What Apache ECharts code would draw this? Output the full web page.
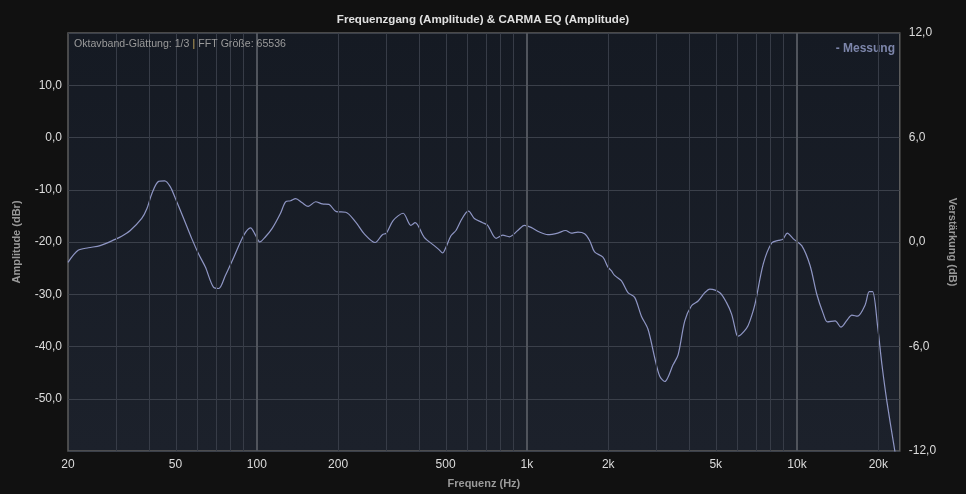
<!DOCTYPE html>
<html>
<head>
<meta charset="utf-8">
<title>Frequenzgang</title>
<script src="https://cdn.jsdelivr.net/npm/echarts@6/dist/echarts.min.js"></script>
<style>
  html, body { margin: 0; padding: 0; background: #111111; }
  #chart { width: 966px; height: 494px; }
</style>
</head>
<body>
<div id="chart"></div>
<script>
// Messkurve (Frequenz in Hz, Pegel in dBr)
const freqHz = [
  20, 21.8, 23.8, 26.3, 29.9, 31.6, 34.0, 37.5, 39.2, 40.9, 43.3, 45.6, 47.8, 49.9,
  53.6, 57.5, 60.9, 64.5, 69.2, 72.3, 76.5, 82.2, 89.5, 94.8, 98.9, 102.6, 107.7,
  114.0, 122.4, 127.8, 133.4, 139.2, 147.3, 155.0, 165.1, 174.7, 185.0, 197.0,
  213.4, 232.4, 249.5, 274.1, 291.7, 301.8, 319.6, 348.1, 371.8, 385.7, 416.7,
  453.8, 473.5, 487.1, 501.5, 523.3, 546.1, 570.0, 594.9, 608.1, 638.5, 685.5,
  715.4, 768.7, 813.3, 861.2, 924.6, 978.8, 1036, 1113, 1195, 1301, 1390, 1459,
  1544, 1635, 1706, 1780, 1911, 1995, 2053, 2112, 2236, 2366, 2505, 2653, 2807,
  2973, 3103, 3238, 3475, 3628, 3841, 4067, 4303, 4556, 4755, 5180, 5483, 5724,
  5974, 6056, 6507, 6693, 6986, 7499, 8055, 8522, 8850, 9204, 9690, 10409, 11174,
  11833, 12521, 12955, 13836, 14530, 15291, 15959, 16741, 17880, 18504, 19030,
  19861, 20621, 21521, 23100
];
const ampDb = [
  -23.9, -21.6, -21.1, -20.7, -19.5, -18.9, -17.8, -15.5, -13.6, -10.7, -8.4, -8.3, -9.4, -11.6,
  -15.5, -19.4, -22.3, -24.8, -28.7, -28.9, -26.4, -22.9, -18.7, -17.3, -18.7, -20.0, -19.0,
  -17.4, -14.5, -12.3, -12.1, -11.7, -12.5, -13.2, -12.3, -12.7, -12.8, -14.2,
  -14.3, -16.2, -18.4, -20.1, -18.6, -18.3, -15.9, -14.5, -16.8, -16.3, -19.1,
  -20.7, -21.5, -22.1, -21.0, -18.8, -17.8, -15.9, -14.4, -14.1, -15.5, -16.3,
  -16.8, -19.3, -18.7, -19.0, -17.8, -16.8, -17.2, -18.1, -18.6, -18.3, -17.8, -18.3,
  -18.1, -18.4, -19.7, -21.9, -22.9, -24.8, -25.5, -26.4, -27.4, -29.7, -30.6, -34.2, -36.7,
  -42.2, -45.7, -46.7, -43.5, -41.6, -35.1, -32.2, -31.3, -29.7, -29.0, -29.7, -31.6, -33.8,
  -37.7, -38.0, -36.5, -35.1, -31.9, -24.2, -20.2, -19.7, -19.5, -18.3, -19.4, -20.7, -24.5,
  -30.0, -33.8, -35.3, -35.1, -36.3, -35.0, -34.0, -34.2, -32.0, -29.5, -29.5,
  -36.0, -43.5, -50.6, -60.5
];

// Achsenbeschriftung
const xTickHz = [20, 50, 100, 200, 500, 1000, 2000, 5000, 10000, 20000];
const xTickText = ['20', '50', '100', '200', '500', '1k', '2k', '5k', '10k', '20k'];
const gridMinorHz = [30, 40, 50, 60, 70, 80, 90, 200, 300, 400, 500, 600, 700, 800, 900,
  2000, 3000, 4000, 5000, 6000, 7000, 8000, 9000, 20000];
const gridMajorHz = [100, 1000, 10000];

const xMin = Math.log10(20);
const xMax = Math.log10(24000);

const fmtDe = v => v.toFixed(1).replace('.', ',');
const fontFam = 'Liberation Sans, Arial, sans-serif';

const chart = echarts.init(document.getElementById('chart'));

const gridLines = gridMinorHz.map(f => ({
  xAxis: Math.log10(f),
  lineStyle: { color: '#373c47', width: 1, type: 'solid' }
})).concat(gridMajorHz.map(f => ({
  xAxis: Math.log10(f),
  lineStyle: { color: '#50545c', width: 2, type: 'solid' }
})));

const option = {
  backgroundColor: '#111111',
  animation: false,
  textStyle: { fontFamily: fontFam },
  title: {
    text: 'Frequenzgang (Amplitude) & CARMA EQ (Amplitude)',
    left: 'center',
    top: 9,
    textStyle: { color: '#e0e0e0', fontSize: 11.6, fontWeight: 'bold' }
  },
  legend: {
    data: ['Messung'],
    right: 66,
    top: 37,
    icon: 'none',
    itemWidth: 0,
    itemGap: 0,
    formatter: '- {name}',
    selectedMode: false,
    textStyle: { color: '#7d86ab', fontSize: 12, fontWeight: 'bold' }
  },
  grid: {
    left: 68,
    right: 64,
    top: 33,
    bottom: 43,
    show: true,
    borderColor: '#5c5c5c',
    borderWidth: 1.5,
    backgroundColor: {
      type: 'linear', x: 0, y: 0, x2: 0, y2: 1,
      colorStops: [
        { offset: 0, color: '#151a23' },
        { offset: 1, color: '#1c212b' }
      ]
    }
  },
  graphic: [{
    type: 'text',
    left: 74,
    top: 39,
    z: 10,
    style: {
      text: '{a|Oktavband-Glättung: 1/3 }{b||}{a| FFT Größe: 65536}',
      rich: {
        a: { fill: '#9a9a9a', fontSize: 10.6, fontFamily: fontFam },
        b: { fill: '#8c7b4c', fontSize: 10.6, fontWeight: 'bold', fontFamily: fontFam }
      }
    }
  }],
  xAxis: {
    type: 'value',
    min: xMin,
    max: xMax,
    name: 'Frequenz (Hz)',
    nameLocation: 'middle',
    nameGap: 27,
    nameTextStyle: { color: '#9a9a9a', fontSize: 11, fontWeight: 'bold' },
    axisLine: { show: false },
    axisTick: { show: false },
    splitLine: { show: false },
    axisLabel: {
      color: '#dcdcdc',
      fontSize: 12,
      margin: 8,
      customValues: xTickHz.map(f => Math.log10(f)),
      formatter: v => {
        const i = xTickHz.findIndex(f => Math.abs(Math.log10(f) - v) < 1e-6);
        return i >= 0 ? xTickText[i] : '';
      }
    }
  },
  yAxis: [{
    type: 'value',
    min: -60,
    max: 20,
    interval: 10,
    name: 'Amplitude (dBr)',
    nameLocation: 'middle',
    nameGap: 46,
    nameTextStyle: { color: '#9a9a9a', fontSize: 11, fontWeight: 'bold' },
    axisLine: { show: false },
    axisTick: { show: false },
    axisLabel: {
      color: '#dcdcdc',
      fontSize: 12,
      margin: 6,
      showMinLabel: false,
      showMaxLabel: false,
      formatter: fmtDe
    },
    splitLine: { lineStyle: { color: '#3b404a', width: 1 } }
  }, {
    type: 'value',
    min: -12,
    max: 12,
    interval: 6,
    position: 'right',
    name: 'Verstärkung (dB)',
    nameLocation: 'middle',
    nameGap: 47,
    nameRotate: -90,
    nameTextStyle: { color: '#9a9a9a', fontSize: 11, fontWeight: 'bold' },
    axisLine: { show: false },
    axisTick: { show: false },
    axisLabel: { color: '#dcdcdc', fontSize: 12, margin: 9, formatter: fmtDe },
    splitLine: { show: false }
  }],
  series: [{
    name: 'Raster',
    type: 'line',
    data: [],
    silent: true,
    z: 1,
    markLine: {
      silent: true,
      symbol: ['none', 'none'],
      label: { show: false },
      emphasis: { disabled: true },
      data: gridLines
    }
  }, {
    name: 'Messung',
    type: 'line',
    z: 3,
    showSymbol: false,
    smooth: 0.3,
    clip: true,
    color: '#8f96c4',
    lineStyle: { color: '#8f96c4', width: 1.2 },
    data: freqHz.map((f, i) => [Math.log10(f), ampDb[i]])
  }]
};

chart.setOption(option);
</script>
</body>
</html>
